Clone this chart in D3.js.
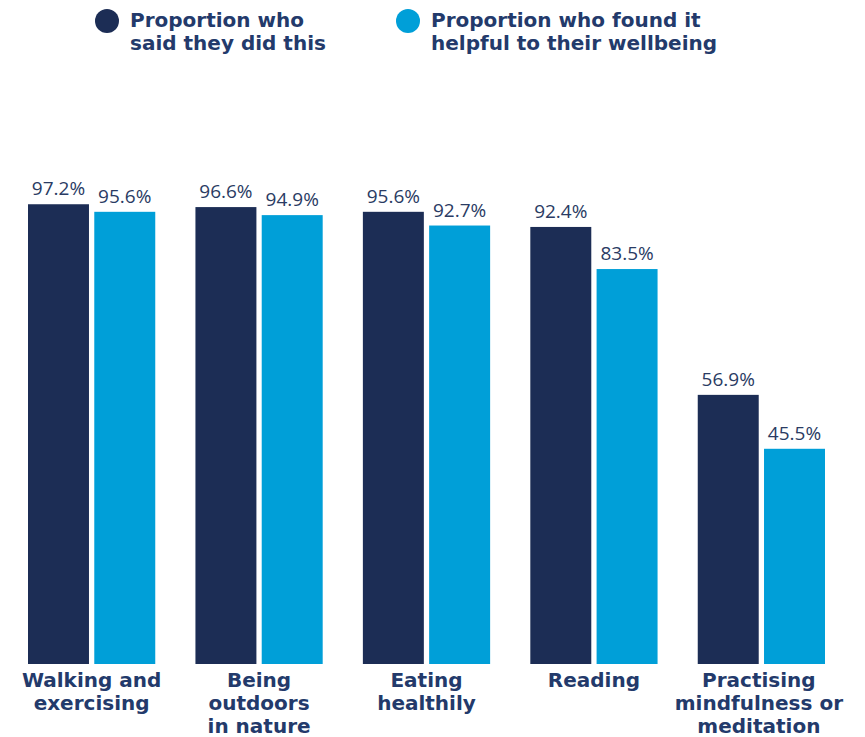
<!DOCTYPE html>
<html>
<head>
<meta charset="utf-8">
<script src="https://cdn.jsdelivr.net/npm/d3@7"></script>
<style>
  html, body { margin: 0; padding: 0; background: #ffffff; }
  svg { display: block; }
</style>
</head>
<body>
<svg id="chart" width="865" height="737"></svg>
<script>
// Activities and the two survey measures (percent)
const categories = [
  ["Walking and", "exercising"],
  ["Being", "outdoors", "in nature"],
  ["Eating", "healthily"],
  ["Reading"],
  ["Practising", "mindfulness or", "meditation"]
];
const didThis = [97.2, 96.6, 95.6, 92.4, 56.9];
const foundHelpful = [95.6, 94.9, 92.7, 83.5, 45.5];
const seriesNames = ["Proportion who said they did this", "Proportion who found it helpful to their wellbeing"];
const legendLines = [["Proportion who", "said they did this"], ["Proportion who found it", "helpful to their wellbeing"]];
const seriesColors = ["#1c2d55", "#009fd8"];

const LABEL_FONT = "'DejaVu Sans', 'Open Sans', sans-serif";
const VALUE_FONT = "'Open Sans', 'Noto Sans', sans-serif";
const textColor = "#233a6b";
const valueColor = "#2a3b63";
const W = 865;

const svg = d3.select("#chart");

const keys = categories.map((c, i) => "c" + i);
const x0 = d3.scaleBand().domain(keys).range([28, 825]).paddingInner(0.24).paddingOuter(0);
const x1 = d3.scaleBand().domain([0, 1]).range([0, x0.bandwidth()]).paddingInner(0.08);
const y = d3.scaleLinear().domain([0, 100]).range([664, 191]);

const rows = keys.map((k, i) => ({ key: k, label: categories[i], values: [didThis[i], foundHelpful[i]] }));

const groups = svg.append("g").selectAll("g.group")
  .data(rows).join("g")
  .attr("class", "group")
  .attr("transform", d => `translate(${x0(d.key)},0)`);

groups.selectAll("rect")
  .data(d => d.values.map((v, s) => ({ v, s })))
  .join("rect")
  .attr("x", d => x1(d.s))
  .attr("width", x1.bandwidth())
  .attr("y", d => y(d.v))
  .attr("height", d => y(0) - y(d.v))
  .attr("fill", d => seriesColors[d.s]);

groups.selectAll("text.value")
  .data(d => d.values.map((v, s) => ({ v, s })))
  .join("text")
  .attr("class", "value")
  .attr("x", d => x1(d.s) + x1.bandwidth() / 2)
  .attr("y", d => y(d.v) - 9)
  .attr("text-anchor", "middle")
  .attr("font-family", VALUE_FONT)
  .attr("font-size", 19)
  .attr("font-weight", 400)
  .attr("fill", valueColor)
  .text(d => d.v.toFixed(1) + "%");

// Category labels under the baseline, one text per line
const catLabels = groups.append("g").attr("class", "cat-label");
catLabels.selectAll("text")
  .data(d => d.label)
  .join("text")
  .attr("x", x0.bandwidth() / 2)
  .attr("y", (d, i) => 687 + i * 23)
  .attr("text-anchor", "middle")
  .attr("font-family", LABEL_FONT)
  .attr("font-size", 20)
  .attr("font-weight", 700)
  .attr("fill", textColor)
  .text(d => d);

// Keep each label block inside the right edge of the canvas
catLabels.each(function (d) {
  const widest = d3.max(d3.select(this).selectAll("text").nodes(), n => n.getComputedTextLength());
  const center = x0(d.key) + x0.bandwidth() / 2;
  const overflow = center + widest / 2 - (W - 22);
  if (overflow > 0) d3.select(this).attr("transform", `translate(${-overflow},0)`);
});

// Legend
const legendX = [107, 408];
const legend = svg.append("g").selectAll("g")
  .data(seriesNames).join("g")
  .attr("transform", (d, i) => `translate(${legendX[i]},0)`);
legend.append("circle")
  .attr("cx", 0).attr("cy", 21).attr("r", 12)
  .attr("fill", (d, i) => seriesColors[i]);
legend.selectAll("text")
  .data((d, i) => legendLines[i])
  .join("text")
  .attr("x", 23)
  .attr("y", (d, i) => 27 + i * 23)
  .attr("font-family", LABEL_FONT)
  .attr("font-size", 20)
  .attr("font-weight", 700)
  .attr("fill", textColor)
  .text(d => d);
</script>
</body>
</html>
